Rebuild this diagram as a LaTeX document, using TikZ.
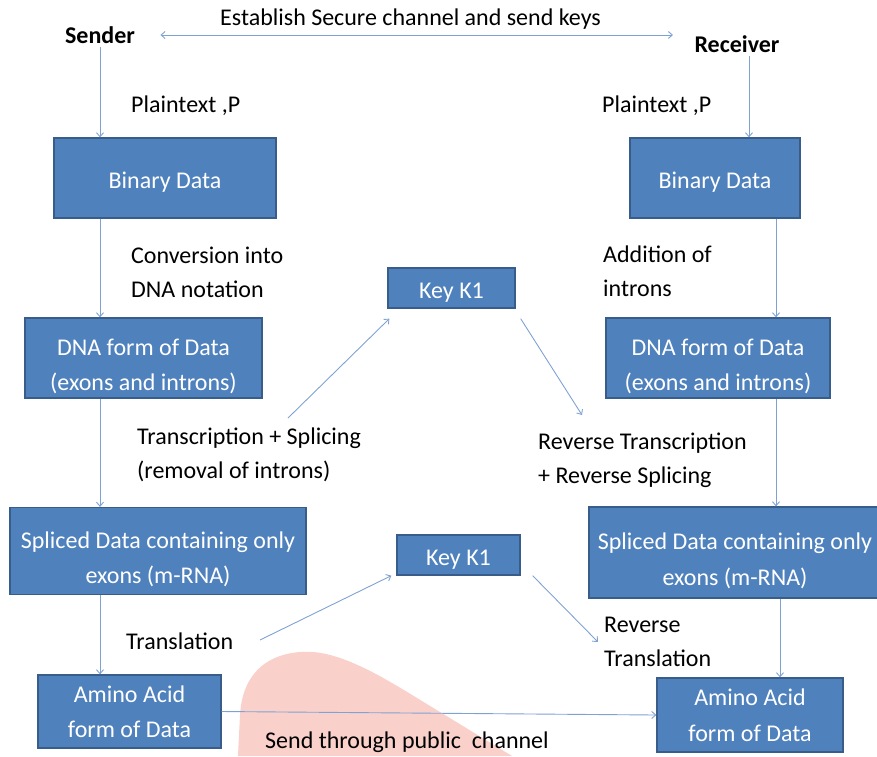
\documentclass[tikz,border=0pt]{standalone}
\usepackage{fontspec}
\setmainfont{Carlito}
\usetikzlibrary{arrows.meta,positioning}

\definecolor{boxfill}{HTML}{4F81BD}
\definecolor{boxline}{HTML}{385D8A}
\definecolor{flowline}{HTML}{7FA2D4}
\definecolor{blobpink}{HTML}{FAD0CA}
\newcommand\topgap{\rule{0pt}{33pt}}

\begin{document}
\begin{tikzpicture}[x=1pt,y=-1pt]
\tikzset{
  every node/.style={font=\fontsize{24}{34}\selectfont},
  stepbox/.style={rectangle,draw=boxline,line width=1.3pt,fill=boxfill,text=white,align=center,inner sep=0pt,
    font=\fontsize{24}{35.5}\selectfont,execute at begin node={\rule{0pt}{25pt}}},
  plainlabel/.style={anchor=west,align=left,inner sep=0pt},
  flowedge/.style={draw=flowline,line width=0.9pt},
  directed/.style={flowedge,-{Straight Barb[length=4pt,width=7pt]}},
  bidirected/.style={flowedge,{Straight Barb[length=4pt,width=7pt]}-{Straight Barb[length=4pt,width=7pt]}}
}
\useasboundingbox (0,0) rectangle (877,756);
\fill[blobpink] (238,756) -- (240,715) .. controls (243,662) and (282,650) .. (313,652)
  .. controls (352,655) and (400,688) .. (440,712) -- (512,756) -- cycle;
% parties
\node[font=\fontsize{24}{34}\selectfont\bfseries] (sender) at (100,35) {Sender};
\node[font=\fontsize{24}{34}\selectfont\bfseries] (receiver) at (737,44) {Receiver};
% boxes
\node[stepbox,minimum width=222,minimum height=80] (binL) at (165,178) {Binary Data};
\node[stepbox,minimum width=170,minimum height=80] (binR) at (715,178) {Binary Data};
\node[stepbox,minimum width=127,minimum height=40] (keyA) at (451.5,288) {Key K1};
\node[stepbox,minimum width=237,minimum height=80] (dnaL) at (143.5,358) {\topgap DNA form of Data\\(exons and introns)};
\node[stepbox,minimum width=224,minimum height=80] (dnaR) at (718,358) {\topgap DNA form of Data\\(exons and introns)};
\node[stepbox,minimum width=296,minimum height=87] (splL) at (158,551) {\topgap Spliced Data containing only\\exons (m-RNA)};
\node[stepbox,minimum width=292,minimum height=91] (splR) at (735,552.5) {\topgap Spliced Data containing only\\exons (m-RNA)};
\node[stepbox,minimum width=123,minimum height=40] (keyB) at (458.5,555) {Key K1};
\node[stepbox,minimum width=183,minimum height=73] (aminoL) at (129.5,711.5) {Amino Acid\\form of Data};
\node[stepbox,minimum width=186,minimum height=74] (aminoR) at (750,715) {Amino Acid\\form of Data};
% labels
\node[plainlabel] (lblEst) at (220,19) {Establish Secure channel and send keys};
\node[plainlabel] (lblPL) at (131,106) {Plaintext ,P};
\node[plainlabel] (lblPR) at (602,106) {Plaintext ,P};
\node[plainlabel] (lblConv) at (131,272) {Conversion into\\DNA notation};
\node[plainlabel] (lblAdd) at (603,271) {Addition of\\introns};
\node[plainlabel] (lblTS) at (137,455) {Transcription + Splicing\\(removal of introns)};
\node[plainlabel] (lblRTS) at (538,460) {Reverse Transcription\\+ Reverse Splicing};
\node[plainlabel] (lblTr) at (126,641) {Translation};
\node[plainlabel] (lblRTr) at (604,642) {Reverse\\Translation};
\node[plainlabel] (lblSend) at (265,742) {Send through public\ \ channel};
% free ends and right column
\coordinate (tsStart) at (288,418);
\coordinate (rtsEnd) at (582,415);
\coordinate (trStart) at (260,640);
\coordinate (rtrEnd) at (598,642);
\coordinate (rcol) at (776,0);
% connectors
\draw[bidirected] ([xshift=22pt]sender.east) -- ([xshift=-18pt]receiver.west |- sender.east);
\draw[directed] (sender.south) -- (sender |- binL.north);
\draw[directed] ([xshift=12pt]receiver.south) -- ([xshift=12pt]receiver.south |- binR.north);
\draw[directed] (binL.south -| sender) -- (dnaL.north -| sender);
\draw[directed] (dnaL.south -| sender) -- (splL.north -| sender);
\draw[directed] (splL.south -| sender) -- (aminoL.north -| sender);
\draw[directed] (binR.south -| rcol) -- (dnaR.north -| rcol);
\draw[directed] (dnaR.south -| rcol) -- (splR.north -| rcol);
\draw[directed] ([xshift=4pt]splR.south -| rcol) -- ([xshift=4pt]aminoR.north -| rcol);
\draw[directed] (tsStart) -- ([shift={(2pt,-10pt)}]keyA.south west);
\draw[directed] ([shift={(5pt,-10pt)}]keyA.south east) -- (rtsEnd);
\draw[directed] (trStart) -- ([xshift=-5pt]keyB.south west);
\draw[directed] ([xshift=12pt]keyB.south east) -- (rtrEnd);
\draw[directed] (aminoL.east) -- (aminoR.west);
\end{tikzpicture}
\end{document}
